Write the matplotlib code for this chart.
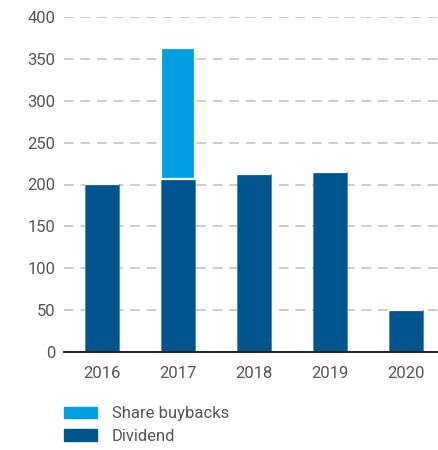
import numpy as np
import matplotlib
matplotlib.use("Agg")
import matplotlib.pyplot as plt
from matplotlib.patches import Patch

years = ['2016', '2017', '2018', '2019', '2020']
dividend = [201, 207, 212, 215, 51]
buybacks = [0, 156, 0, 0, 0]

dark_blue = '#00558f'
light_blue = '#009fe3'
grey_text = '#555555'

plt.rcParams['font.family'] = ['Roboto', 'DejaVu Sans']

fig = plt.figure(figsize=(4.38, 4.5), dpi=100)
ax = fig.add_axes([0.146, 0.217, 0.854, 0.746])

x = np.arange(len(years))
w = 0.45
ax.bar(x, dividend, width=w, color=dark_blue, edgecolor='#4a86bd', linewidth=0.6, zorder=3)
ax.bar(x, buybacks, width=w, bottom=dividend, color=light_blue, edgecolor='white',
       linewidth=1.6, zorder=3)

ax.set_ylim(0, 400)
ax.set_xlim(-0.5, 4.42)
ax.set_yticks(range(0, 401, 50))
ax.set_xticks(x)
ax.set_xticklabels(years)

ax.yaxis.grid(True, color='#cccccc', linestyle=(0, (5, 3.5)), linewidth=1.4, zorder=0)
for s in ['left', 'right', 'top']:
    ax.spines[s].set_visible(False)
ax.spines['bottom'].set_color('#222222')
ax.spines['bottom'].set_linewidth(1.4)
ax.spines['bottom'].set_zorder(4)

ax.tick_params(axis='both', length=0, labelsize=12, labelcolor=grey_text)
ax.tick_params(axis='y', pad=6)
ax.tick_params(axis='x', pad=10)

handles = [Patch(color=light_blue, label='Share buybacks'),
           Patch(color=dark_blue, label='Dividend')]
fig.legend(handles=handles, loc='upper left', bbox_to_anchor=(0.131, 0.112),
           frameon=False, fontsize=12, labelcolor=grey_text, handlelength=2.0,
           handleheight=0.72, handletextpad=0.85, labelspacing=0.45, borderaxespad=0)

fig.savefig('out.png', dpi=100)
